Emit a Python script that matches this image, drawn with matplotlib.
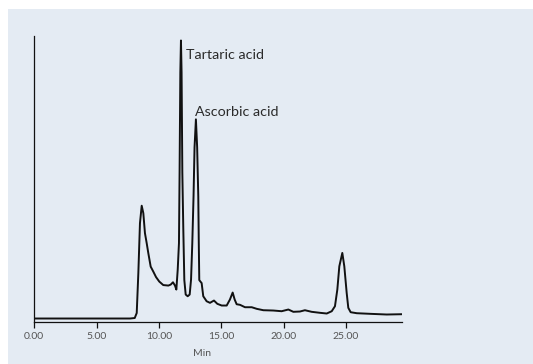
import matplotlib
matplotlib.use("Agg")
import matplotlib.pyplot as plt
from matplotlib.patches import Rectangle

# retention time (min) and detector response (arbitrary units)
time_min = [0.0, 7.68, 8.06, 8.22, 8.35, 8.48, 8.62, 8.75, 8.88, 9.02, 9.15,
            9.34, 9.55, 9.77, 10.03, 10.35, 10.76, 10.95, 11.13, 11.29, 11.40,
            11.51, 11.61, 11.66, 11.72, 11.77, 11.82, 11.88, 11.96, 12.04,
            12.15, 12.31, 12.47, 12.58, 12.68, 12.78, 12.86, 12.97, 13.07,
            13.16, 13.20, 13.24, 13.30, 13.43, 13.56, 13.83, 14.10, 14.42,
            14.69, 15.04, 15.44, 15.70, 15.92, 16.08, 16.24, 16.51, 16.91,
            17.45, 17.85, 18.38, 19.18, 19.85, 20.39, 20.79, 21.32, 21.72,
            22.26, 22.93, 23.47, 23.87, 24.13, 24.32, 24.48, 24.72, 24.88,
            25.07, 25.20, 25.39, 25.88, 26.94, 28.28, 29.51]
signal = [3.5, 3.5, 4.0, 9.0, 49.0, 99.0, 116.5, 109.0, 89.0, 79.0, 69.0,
          55.5, 50.5, 45.0, 40.5, 37.0, 36.5, 37.5, 39.8, 36.5, 32.5,
          52.5, 79.0, 150.0, 250.0, 282.0, 250.0, 150.0, 92.0, 42.0,
          27.5, 25.8, 27.5, 42.5, 79.0, 126.0, 175.0, 203.0, 175.0,
          126.0, 80.0, 42.0, 41.0, 39.0, 25.8, 20.8, 19.2, 21.5,
          18.2, 16.5, 16.5, 22.5, 29.5, 22.5, 17.8, 17.2, 14.8,
          14.8, 13.2, 11.8, 11.5, 10.8, 12.5, 10.2, 10.5, 11.8,
          10.2, 9.2, 8.5, 10.8, 15.8, 32.5, 55.8, 69.2, 55.8,
          29.2, 14.2, 9.8, 8.8, 8.2, 7.5, 7.8]

peak_names = ["Tartaric acid", "Ascorbic acid"]
label_pos = [(12.15, 263.0), (12.92, 206.5)]

tick_vals = [0, 5, 10, 15, 20, 25]
tick_text = ["0.00", "5.00", "10.00", "15.00", "20.00", "25.00"]

panel = "#e4ebf3"

fig = plt.figure(figsize=(5.33, 3.64), dpi=100)
fig.patch.set_facecolor("white")
fig.patches.append(Rectangle((8 / 533, 0), 1, (364 - 9) / 364,
                             transform=fig.transFigure, facecolor=panel,
                             edgecolor="none", zorder=-10))

ax = fig.add_axes([34.3 / 533, 42 / 364, (402 - 34.3) / 533, (322 - 36) / 364])
ax.patch.set_visible(False)

ax.plot(time_min, signal, color="#111111", lw=1.4, solid_joinstyle="round")

for name, (tx, ty) in zip(peak_names, label_pos):
    ax.text(tx, ty, name, fontsize=10.3, family="Lato", color="#2a2a2a",
            va="baseline", ha="left")

ax.set_xlim(0, 29.51)
ax.set_ylim(0, 286.5)

for side in ("top", "right"):
    ax.spines[side].set_visible(False)
for side in ("left", "bottom"):
    ax.spines[side].set_linewidth(0.9)
    ax.spines[side].set_color("#111111")

ax.set_yticks([])
ax.set_xticks(tick_vals)
ax.set_xticklabels(tick_text, family="Lato", fontsize=7.5, color="#555555")
ax.tick_params(axis="x", direction="out", length=4.5, width=0.9,
               color="#111111", pad=2.5)

ax.set_xlabel("Min", family="Lato", fontsize=7.5, color="#555555")
ax.xaxis.set_label_coords(0.456, -0.095)

fig.savefig("out.png", dpi=100, facecolor=fig.get_facecolor())
